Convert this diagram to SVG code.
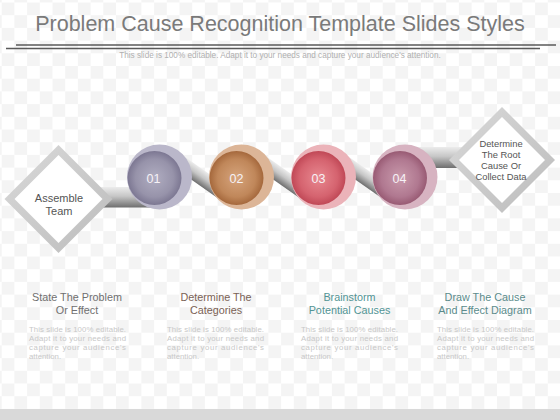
<svg xmlns="http://www.w3.org/2000/svg" xmlns:xlink="http://www.w3.org/1999/xlink" width="560" height="420" viewBox="0 0 560 420">
  <defs>
    <pattern id="checker" x="1.7" y="2.5" width="25.4" height="25.4" patternUnits="userSpaceOnUse">
      <rect width="25.4" height="25.4" fill="#ffffff"/>
      <rect width="12.7" height="12.7" fill="#f4f4f4"/>
      <rect x="12.7" y="12.7" width="12.7" height="12.7" fill="#f4f4f4"/>
    </pattern>
    <linearGradient id="tubeGrad" x1="0" y1="0" x2="0" y2="1">
      <stop offset="0" stop-color="#ececec"/>
      <stop offset="0.45" stop-color="#c6c6c6"/>
      <stop offset="1" stop-color="#6e6e6e"/>
    </linearGradient>
    <linearGradient id="diaGrad" x1="0" y1="0" x2="1" y2="1">
      <stop offset="0" stop-color="#d9d9d9"/>
      <stop offset="1" stop-color="#bcbcbc"/>
    </linearGradient>
    <radialGradient id="g1" cx="0.5" cy="0.5" r="0.5">
      <stop offset="0" stop-color="#b0adc1"/>
      <stop offset="0.7" stop-color="#9793aa"/>
      <stop offset="1" stop-color="#7c7792"/>
    </radialGradient>
    <radialGradient id="g2" cx="0.5" cy="0.5" r="0.5">
      <stop offset="0" stop-color="#d6a47c"/>
      <stop offset="0.7" stop-color="#c0875a"/>
      <stop offset="1" stop-color="#a5683c"/>
    </radialGradient>
    <radialGradient id="g3" cx="0.5" cy="0.5" r="0.5">
      <stop offset="0" stop-color="#e88890"/>
      <stop offset="0.7" stop-color="#d5636f"/>
      <stop offset="1" stop-color="#c04856"/>
    </radialGradient>
    <radialGradient id="g4" cx="0.5" cy="0.5" r="0.5">
      <stop offset="0" stop-color="#c99aac"/>
      <stop offset="0.7" stop-color="#b07890"/>
      <stop offset="1" stop-color="#985a73"/>
    </radialGradient>
    <polygon id="tube" points="2,-7.5 50,-7.5 67,7.5 14,7.5" fill="url(#tubeGrad)"/>
    <style>
      .t { font-family: "Liberation Sans", Arial, sans-serif; }
      .title { font-size: 21.5px; fill: #7a7a7a; text-anchor: middle; }
      .sub { font-size: 8.2px; fill: #b0b0b0; text-anchor: middle; }
      .dtext { font-size: 11px; fill: #555555; text-anchor: middle; }
      .rtext { font-size: 9.4px; fill: #555555; text-anchor: middle; }
      .num { font-size: 12.5px; fill: #f6f2f6; text-anchor: middle; }
      .head { font-size: 10.8px; text-anchor: middle; }
      .body { font-size: 7.8px; fill: #c8c8c8; }
      .rule { stroke: #5a5a5a; stroke-width: 1.3; }
    </style>
  </defs>

  <rect width="560" height="420" fill="url(#checker)"/>
  <rect x="0" y="409" width="560" height="11" fill="#d9d9d9"/>

  <g id="header">
    <text class="t title" x="280" y="31">Problem Cause Recognition Template Slides Styles</text>
    <line class="rule" x1="16" y1="45" x2="556" y2="45"/>
    <line class="rule" x1="6" y1="48.5" x2="540" y2="48.5"/>
    <text class="t sub" x="280" y="58">This slide is 100% editable.  Adapt it to your needs and capture your audience's attention.</text>
  </g>

  <g id="connectors">
    <rect x="95" y="187" width="57" height="20.5" fill="url(#tubeGrad)"/>
    <rect x="400" y="147" width="70" height="21" fill="url(#tubeGrad)"/>
    <use xlink:href="#tube" transform="translate(173 157.7) rotate(35)"/>
    <use xlink:href="#tube" transform="translate(255 157.7) rotate(35)"/>
    <use xlink:href="#tube" transform="translate(337 157.7) rotate(35)"/>
  </g>

  <g id="node-assemble">
    <polygon points="58.5,145 112.5,199 58.5,253 4.5,199" fill="url(#diaGrad)"/>
    <polygon points="58.5,155 102.5,199 58.5,243 14.5,199" fill="#ffffff"/>
    <text class="t dtext" x="59" y="201.5">Assemble</text>
    <text class="t dtext" x="59" y="215">Team</text>
  </g>

  <g id="node-01">
    <circle cx="159.5" cy="177" r="32.5" fill="#bab7ca"/>
    <circle cx="154.5" cy="178" r="27" fill="url(#g1)"/>
    <text class="t num" x="153.5" y="182.5">01</text>
  </g>
  <g id="node-02">
    <circle cx="241.5" cy="177" r="32.5" fill="#dcb597"/>
    <circle cx="236.5" cy="178" r="27" fill="url(#g2)"/>
    <text class="t num" x="236.5" y="182.5">02</text>
  </g>
  <g id="node-03">
    <circle cx="323.5" cy="177" r="32.5" fill="#ebb3b9"/>
    <circle cx="318.5" cy="178" r="27" fill="url(#g3)"/>
    <text class="t num" x="318.5" y="182.5">03</text>
  </g>
  <g id="node-04">
    <circle cx="405" cy="177" r="32.5" fill="#d7b3c1"/>
    <circle cx="400" cy="178" r="27" fill="url(#g4)"/>
    <text class="t num" x="399.5" y="182.5">04</text>
  </g>

  <g id="node-root">
    <polygon points="502,107 555,160 502,213 449,160" fill="url(#diaGrad)"/>
    <polygon points="502,117 545,160 502,203 459,160" fill="#ffffff"/>
    <text class="t rtext" x="501" y="146.8">Determine</text>
    <text class="t rtext" x="501" y="158">The Root</text>
    <text class="t rtext" x="501" y="169">Cause Or</text>
    <text class="t rtext" x="501" y="180">Collect Data</text>
  </g>

  <g id="col-1">
    <text class="t head" x="77" y="300.5" fill="#707070">State The Problem</text>
    <text class="t head" x="77" y="314.2" fill="#707070">Or Effect</text>
    <text class="t body" x="29" y="332" textLength="97" lengthAdjust="spacing">This slide is 100% editable.</text>
    <text class="t body" x="29" y="341" textLength="97" lengthAdjust="spacing">Adapt it to your needs and</text>
    <text class="t body" x="29" y="350" textLength="97" lengthAdjust="spacing">capture your audience's</text>
    <text class="t body" x="29" y="359">attention.</text>
  </g>
  <g id="col-2">
    <text class="t head" x="216" y="300.5" fill="#7b6255">Determine The</text>
    <text class="t head" x="216" y="314.2" fill="#7b6255">Categories</text>
    <text class="t body" x="167" y="332" textLength="97" lengthAdjust="spacing">This slide is 100% editable.</text>
    <text class="t body" x="167" y="341" textLength="97" lengthAdjust="spacing">Adapt it to your needs and</text>
    <text class="t body" x="167" y="350" textLength="97" lengthAdjust="spacing">capture your audience's</text>
    <text class="t body" x="167" y="359">attention.</text>
  </g>
  <g id="col-3">
    <text class="t head" x="349.5" y="300.5" fill="#529494">Brainstorm</text>
    <text class="t head" x="349.5" y="314.2" fill="#529494">Potential Causes</text>
    <text class="t body" x="301" y="332" textLength="97" lengthAdjust="spacing">This slide is 100% editable.</text>
    <text class="t body" x="301" y="341" textLength="97" lengthAdjust="spacing">Adapt it to your needs and</text>
    <text class="t body" x="301" y="350" textLength="97" lengthAdjust="spacing">capture your audience's</text>
    <text class="t body" x="301" y="359">attention.</text>
  </g>
  <g id="col-4">
    <text class="t head" x="485" y="300.5" fill="#5b8b8b">Draw The Cause</text>
    <text class="t head" x="485" y="314.2" fill="#5b8b8b">And Effect Diagram</text>
    <text class="t body" x="437" y="332" textLength="97" lengthAdjust="spacing">This slide is 100% editable.</text>
    <text class="t body" x="437" y="341" textLength="97" lengthAdjust="spacing">Adapt it to your needs and</text>
    <text class="t body" x="437" y="350" textLength="97" lengthAdjust="spacing">capture your audience's</text>
    <text class="t body" x="437" y="359">attention.</text>
  </g>
</svg>
